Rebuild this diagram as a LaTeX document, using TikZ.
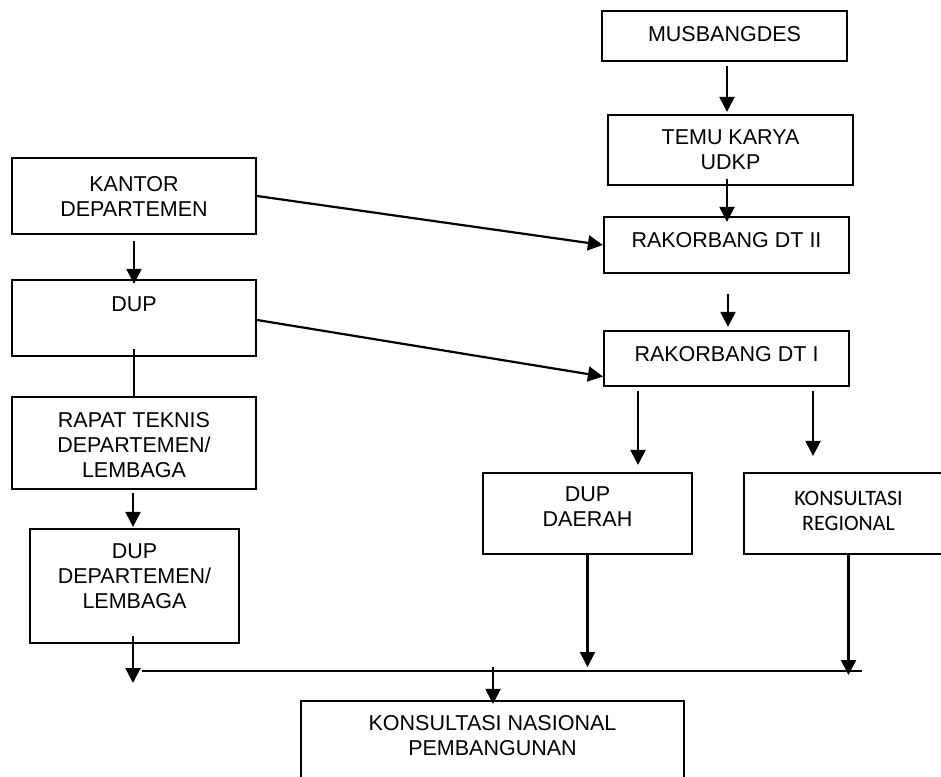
\documentclass[tikz,border=0pt]{standalone}
\usepackage{fontspec}
\setmainfont{Liberation Sans}
\newfontfamily\calibrifont{Carlito}
\usetikzlibrary{calc,positioning,arrows.meta}
\tikzset{
	procbox/.style={draw, line width=2.2pt, inner sep=0pt},
	proctext/.style={align=center, inner sep=0pt, font=\fontsize{21.5}{25}\selectfont},
	flowarr/.style={line width=2.2pt, -{Triangle[width=15pt,length=15pt]}},
	flowline/.style={line width=2.2pt}
}
\begin{document}
\begin{tikzpicture}[x=1pt,y=-1pt]
		\useasboundingbox (0,0) rectangle (941,776);
		\clip (0,0) rectangle (941,776);
		
		\node[procbox, minimum width=245pt, minimum height=50pt] (musb) at (724.5,36) {};
		\node[procbox, minimum width=245pt, minimum height=70pt] (temu) at (730.5,150) {};
		\node[procbox, minimum width=245pt, minimum height=56pt] (rak2) at (726.5,245) {};
		\node[procbox, minimum width=245pt, minimum height=55pt] (rak1) at (726.5,358.5) {};
		\node[procbox, minimum width=244pt, minimum height=76pt] (kantor) at (134,196) {};
		\node[procbox, minimum width=244pt, minimum height=76pt] (dup) at (134,318) {};
		\node[procbox, minimum width=244pt, minimum height=92pt] (rapat) at (134,443) {};
		\node[procbox, minimum width=209pt, minimum height=114pt] (dupdept) at (134.5,586) {};
		\node[procbox, minimum width=209pt, minimum height=81pt] (daerah) at (587.5,513.5) {};
		\node[procbox, minimum width=209pt, minimum height=81pt] (konsreg) at (848.5,513.5) {};
		\node[procbox, minimum width=383pt, minimum height=100pt] (konsnas) at (492.5,751) {};
		
		\node[proctext, below=16pt of musb.north] (musb-t) {MUSBANGDES};
		\node[proctext, below=16pt of temu.north] (temu-t) {TEMU KARYA\\UDKP};
		\node[proctext, below=16pt of rak2.north] (rak2-t) {RAKORBANG DT II};
		\node[proctext, below=16pt of rak1.north] (rak1-t) {RAKORBANG DT I};
		\node[proctext, below=19pt of kantor.north] (kantor-t) {KANTOR\\DEPARTEMEN};
		\node[proctext, below=18pt of dup.north] (dup-t) {DUP};
		\node[proctext, below=16pt of rapat.north] (rapat-t) {RAPAT TEKNIS\\DEPARTEMEN/\\LEMBAGA};
		\node[proctext, below=16pt of dupdept.north] (dupdept-t) {DUP\\DEPARTEMEN/\\LEMBAGA};
		\node[proctext, below=15pt of daerah.north] (daerah-t) {DUP\\DAERAH};
		\node[proctext, font=\calibrifont\fontsize{22}{25.5}\selectfont, below=19pt of konsreg.north] (konsreg-t) {KONSULTASI\\REGIONAL};
		\node[proctext, below=15pt of konsnas.north] (konsnas-t) {KONSULTASI NASIONAL\\PEMBANGUNAN};
		
		\coordinate (busL) at (142,671);
		\coordinate (busR) at (862,671);
		
		\draw[flowarr] ($(musb.south)+(2.5,4)$) -- ($(musb.south |- temu.north)+(2.5,-2)$);
		\draw[flowarr] ($(temu.south)+(-3.5,-7)$) -- ($(temu.south |- rak2.north)+(-3.5,6)$);
		\draw[flowarr] ($(rak2.south)+(1.5,20)$) -- ($(rak2.south |- rak1.north)+(1.5,-3)$);
		\draw[flowarr] (kantor.east) -- (rak2.west);
		\draw[flowarr] ($(kantor.south)+(0,6)$) -- ($(dup.north)+(0,5)$);
		\draw[flowarr] ($(dup.east)+(0,2)$) -- ($(rak1.west)+(0,18)$);
		\draw[flowline] ($(dup.south)+(0,-8)$) -- (rapat.north);
		\draw[flowarr] ($(rapat.south)+(-1,3)$) -- ($(rapat.south |- dupdept.north)+(-1,-1)$);
		\draw[flowarr] ($(dupdept.south)+(-1.5,-8)$) -- ($(dupdept.south |- busL)+(-1.5,12)$);
		\draw[flowarr] ($(rak1.south -| daerah.north)+(50.5,4)$) -- ($(daerah.north)+(50.5,-7)$);
		\draw[flowarr] ($(rak1.south -| konsreg.north)+(-35.5,4)$) -- ($(konsreg.north)+(-35.5,-16)$);
		\draw[flowarr] (daerah.south) -- ($(daerah.south |- busL)+(0,-4)$);
		\draw[flowarr] (konsreg.south) -- ($(konsreg.south |- busL)+(0,4)$);
		\draw[line width=1.5pt] (busL) -- (busR);
		\draw[flowarr] ($(konsnas.north |- busL)+(0.5,-4)$) -- ($(konsnas.north)+(0.5,4)$);
		\end{tikzpicture}
\end{document}
